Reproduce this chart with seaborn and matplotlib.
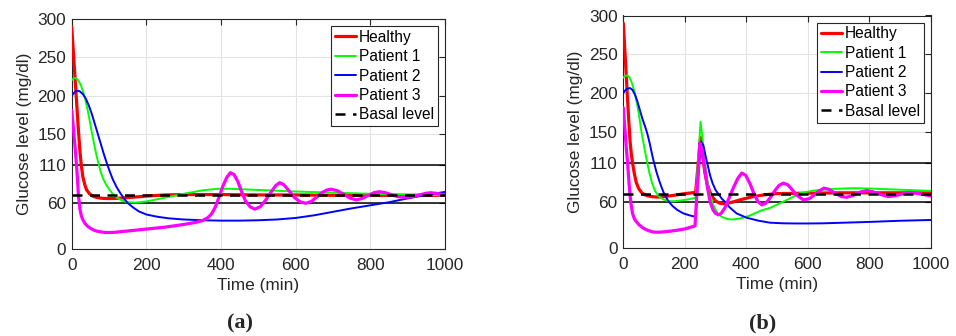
import matplotlib
matplotlib.use("Agg")
import matplotlib.pyplot as plt
import seaborn as sns
import pandas as pd

# ---------------- data: panel (a) ----------------
A_T_HEALTHY = [0, 3, 6, 10, 14, 18, 22, 26, 30, 35, 40, 48, 56, 65, 75, 85, 100, 120, 150, 200, 250, 300, 400, 500, 600, 700, 800, 900, 1000]
A_HEALTHY = [290, 268, 245, 215, 185, 155, 128, 108, 94, 84, 77, 72, 69, 67.5, 66.5, 66, 65.8, 66, 67, 69, 70.5, 71, 71, 70.5, 70.5, 70, 70, 70, 70]

A_T_P1 = [0, 5, 10, 15, 20, 25, 30, 36, 42, 48, 54, 60, 66, 72, 78, 85, 92, 100, 110, 120, 135, 150, 170, 200, 250, 300, 350, 390, 430, 500, 600, 700, 800, 900, 1000]
A_P1 = [220, 222.5, 223, 221.5, 218, 213, 206, 196, 183, 168, 152, 137, 123, 111, 100, 91, 84, 78, 72, 67.5, 63, 61, 60.5, 62, 67, 72, 76.5, 78.5, 78.5, 77, 75, 73.5, 72, 71, 70]

A_T_P2 = [0, 5, 10, 16, 22, 30, 38, 46, 54, 62, 70, 78, 86, 94, 102, 110, 120, 130, 140, 150, 165, 180, 200, 230, 260, 300, 350, 400, 450, 500, 550, 600, 650, 700, 750, 800, 850, 900, 950, 1000]
A_P2 = [200, 203, 205.5, 206.5, 205.5, 202, 196, 187, 176, 163, 150, 137, 124, 112, 101, 91, 81, 73, 66, 60, 54, 49, 45, 42, 40, 38.5, 37.5, 37, 37, 37.5, 38.5, 40.5, 44, 48.5, 53, 57, 61, 66, 70.5, 74.5]

A_T_P3 = [0, 3, 6, 9, 12, 15, 18, 22, 26, 30, 36, 44, 52, 62, 75, 90, 105, 120, 150, 200, 250, 300, 330, 350, 365, 375, 385, 395, 405, 415, 425, 435, 445, 455, 465, 478, 490, 505, 520, 535, 547, 557, 568, 582, 597, 612, 627, 642, 657, 672, 684, 695, 712, 730, 745, 762, 778, 795, 810, 824, 840, 858, 876, 896, 915, 935, 950, 962, 978, 1000]
A_P3 = [181, 165, 150, 133, 115, 95, 70, 52, 43, 38, 33, 29, 26.5, 24, 22.5, 21.5, 21.5, 22, 23.5, 26, 28.5, 32, 34.5, 37, 41, 46, 55, 68, 82, 93, 99.5, 97, 88, 75, 63, 55, 52, 55, 64, 75, 83, 86.5, 84, 76, 67, 61.5, 59.6, 62, 68, 74, 77, 78, 76, 71, 66.5, 64, 66, 70, 73.5, 74.7, 73.5, 70.5, 68, 67.4, 68.5, 71, 72.8, 73.4, 72.5, 70.5]

# ---------------- data: panel (b) ----------------
B_T_HEALTHY = [0, 3, 6, 10, 14, 18, 22, 26, 30, 36, 42, 50, 60, 70, 80, 95, 110, 130, 160, 200, 235, 251, 258, 265, 272, 280, 290, 300, 314, 330, 350, 380, 420, 460, 500, 600, 700, 800, 900, 1000]
B_HEALTHY = [290, 270, 248, 220, 190, 163, 138, 122, 110, 96, 85, 77, 71.5, 69, 67.5, 66.5, 66, 66.5, 68, 70.5, 72, 143, 118, 98, 84, 74, 66, 61, 58, 57.5, 59, 62.5, 66.5, 69, 70.5, 71, 71.5, 71.5, 71.5, 71.5]

B_T_P1 = [0, 5, 13, 20, 27, 35, 43, 51, 59, 66, 72, 78, 85, 92, 103, 115, 130, 145, 162, 185, 210, 235, 251, 258, 265, 272, 280, 292, 305, 320, 340, 357, 380, 410, 450, 477, 509, 540, 574, 620, 680, 747, 800, 900, 1000]
B_P1 = [220, 222, 223, 220, 214, 204, 190, 172, 150, 135, 122, 110, 97, 86, 74, 67, 63, 61, 60.5, 61.5, 63, 65, 163, 140, 112, 90, 72, 56, 46, 40.5, 37.5, 37.2, 38.5, 42, 49, 52, 58, 64, 71, 74.5, 76.5, 77.5, 77, 75.5, 74]

B_T_P2 = [0, 5, 12, 22, 30, 38, 46, 54, 62, 70, 78, 86, 94, 100, 108, 116, 124, 132, 140, 148, 160, 175, 195, 215, 235, 252, 260, 268, 275, 282, 290, 300, 309, 320, 330, 345, 368, 400, 440, 477, 520, 560, 600, 650, 700, 800, 900, 1000]
B_P2 = [200, 203, 205.5, 206.5, 204, 198, 189, 178, 167, 158, 148, 135, 120, 110, 98, 88, 79, 71, 65, 60, 54.5, 49.5, 45, 42.5, 40.5, 137.5, 133, 118, 106, 94, 84, 75, 70, 64, 60, 53, 45, 39.5, 35.5, 33, 32.2, 32, 32, 32.2, 32.8, 34, 35.5, 36.5]

B_T_P3 = [0, 3, 6, 10, 14, 19, 24, 30, 36, 43, 52, 65, 80, 97, 115, 140, 170, 200, 233, 249, 256, 264, 272, 282, 292, 300, 309, 318, 330, 345, 360, 372, 385, 398, 412, 425, 438, 450, 463, 477, 492, 506, 520, 534, 548, 562, 585, 605, 620, 635, 652, 668, 690, 710, 726, 745, 770, 791, 810, 830, 861, 880, 900, 932, 955, 980, 1000]
B_P3 = [181, 165, 150, 128, 110, 82, 60, 45, 38, 34, 30, 26, 23, 21, 20.7, 21.5, 23, 25, 28.8, 136, 126, 105, 82, 60, 49, 45, 43, 45, 52, 66, 80, 90, 97, 94, 83, 70, 60, 56, 58, 65, 74, 81, 84, 82, 76, 69, 62.4, 64, 68.5, 73.5, 77.5, 76, 70.5, 66.5, 65.8, 68, 72.5, 74.4, 73, 70, 66.7, 67.5, 69.5, 71.8, 71, 69, 67.5]

BASAL_T = [0, 1000]
BASAL = [70, 70]
LIMIT_LOW = 60
LIMIT_HIGH = 110

SERIES = ["Healthy", "Patient 1", "Patient 2", "Patient 3"]
COLORS = ["#ff0000", "#00ff00", "#0000ff", "#ff00ff"]
WIDTHS = [2.3, 1.4, 1.4, 2.3]
X_TICKS = [0, 200, 400, 600, 800, 1000]
Y_TICKS = [0, 60, 110, 150, 200, 250, 300]

sns.set_style("white")
plt.rcParams["font.family"] = ["Liberation Sans", "DejaVu Sans"]

TXT = "#262626"
FS = 12.4
LFS = 11.2

fig = plt.figure(figsize=(9.56, 3.36), dpi=100)
ax_a = fig.add_axes([71.7 / 956, 1 - 249 / 336, (445 - 71.7) / 956, (249 - 19) / 336])
ax_b = fig.add_axes([623.3 / 956, 1 - 248.3 / 336, (931 - 623.3) / 956, (248.3 - 15.5) / 336])

panels = [
    (ax_a, [(A_T_HEALTHY, A_HEALTHY), (A_T_P1, A_P1), (A_T_P2, A_P2), (A_T_P3, A_P3)]),
    (ax_b, [(B_T_HEALTHY, B_HEALTHY), (B_T_P1, B_P1), (B_T_P2, B_P2), (B_T_P3, B_P3)]),
]

for ax, data in panels:
    ax.axhline(LIMIT_HIGH, color="black", lw=1.1, zorder=2)
    ax.axhline(LIMIT_LOW, color="black", lw=1.1, zorder=2)
    for name, color, lw, (t, v) in zip(SERIES, COLORS, WIDTHS, data):
        df = pd.DataFrame({"t": t, "v": v})
        sns.lineplot(data=df, x="t", y="v", ax=ax, color=color, lw=lw,
                     label=name, errorbar=None, zorder=3)
    dfb = pd.DataFrame({"t": BASAL_T, "v": BASAL})
    sns.lineplot(data=dfb, x="t", y="v", ax=ax, color="black", lw=1.8,
                 dashes=False, label="Basal level", errorbar=None, zorder=4)
    ax.lines[-1].set_dashes((4, 3))

    ax.set_xlim(0, 1000)
    ax.set_ylim(0, 300)
    ax.set_xticks(X_TICKS)
    ax.set_yticks(Y_TICKS)
    ax.grid(True, color="#e3e3e3", lw=0.8, zorder=0)
    ax.set_axisbelow(True)
    ax.tick_params(direction="in", length=4, width=0.8, top=True, right=True,
                   labelsize=FS, colors=TXT, labelcolor=TXT)
    ax.tick_params(axis="x", pad=6.5)
    ax.tick_params(axis="y", pad=4)
    for s in ax.spines.values():
        s.set_color(TXT)
        s.set_linewidth(0.8)
    ax.set_xlabel("Time (min)", fontsize=FS, color=TXT, labelpad=3.5)
    ax.set_ylabel("Glucose level (mg/dl)", fontsize=FS, color=TXT, labelpad=4)
    leg = ax.legend(loc="upper right", fontsize=LFS, frameon=True, fancybox=False,
                    framealpha=1, edgecolor=TXT, handlelength=1.35,
                    handletextpad=0.2, labelspacing=0.28, borderpad=0.25,
                    borderaxespad=0.45)
    leg.get_frame().set_linewidth(0.8)
    for txt in leg.get_texts():
        txt.set_color("black")

fig.text(240 / 956, 1 - 323 / 336, "(a)", ha="center", va="center",
         fontsize=16, fontweight="bold", family=["Liberation Serif", "DejaVu Serif"])
fig.text(763 / 956, 1 - 323 / 336, "(b)", ha="center", va="center",
         fontsize=16, fontweight="bold", family=["Liberation Serif", "DejaVu Serif"])

fig.savefig("out.png", dpi=100)
